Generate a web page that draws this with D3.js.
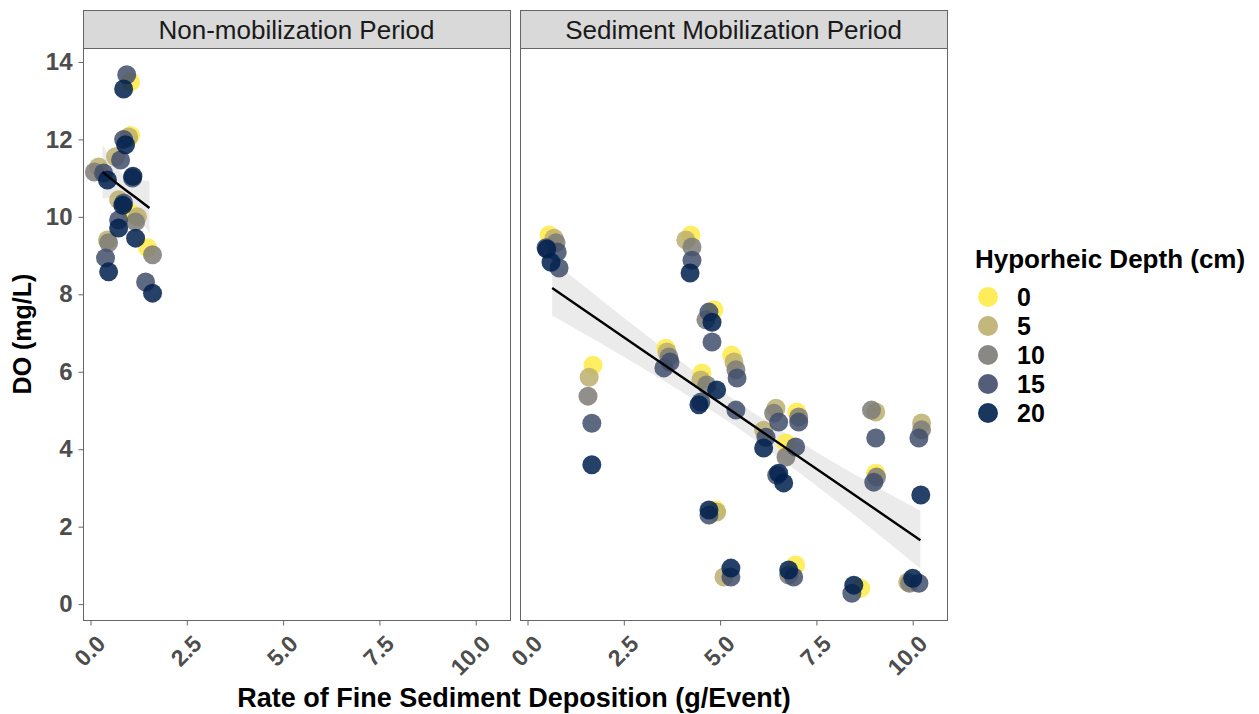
<!DOCTYPE html>
<html>
<head>
<meta charset="utf-8">
<script src="https://cdn.jsdelivr.net/npm/d3@7"></script>
<style>
  body { margin: 0; background: #fff; }
  text { font-family: "Liberation Sans", Arial, sans-serif; }
</style>
</head>
<body>
<script>
const W = 1259, H = 714;

// data: [depth (cm), rate (g/event), DO (mg/L)]
const depths = [0, 5, 10, 15, 20];
const depthColors = ["#FFEA46", "#BCAF6F", "#7C7B78", "#414D6B", "#00204D"];
const panelNames = ["Non-mobilization Period", "Sediment Mobilization Period"];
const xTicks = [0, 2.5, 5, 7.5, 10];
const yTicks = [0, 2, 4, 6, 8, 10, 12, 14];

const nonMobPoints = [
  [15, 0.94, 13.67], [0, 1.04, 13.48], [20, 0.86, 13.30],
  [0, 1.04, 12.10], [5, 0.99, 12.06], [15, 0.86, 12.00], [20, 0.91, 11.86],
  [5, 0.65, 11.55], [15, 0.78, 11.47],
  [5, 0.21, 11.29], [10, 0.10, 11.16], [15, 0.34, 11.13], [20, 0.44, 10.95],
  [15, 1.09, 11.00], [20, 1.10, 11.05],
  [5, 0.73, 10.44], [15, 0.86, 10.36], [20, 0.84, 10.30],
  [0, 1.04, 10.10], [5, 1.22, 10.00], [10, 1.17, 9.87],
  [15, 0.73, 9.92], [20, 0.73, 9.71],
  [5, 0.44, 9.40], [10, 0.47, 9.33], [20, 1.17, 9.45],
  [0, 1.48, 9.20], [10, 1.61, 9.02],
  [15, 0.39, 8.94], [20, 0.47, 8.58],
  [15, 1.43, 8.32], [20, 1.61, 8.03]
];

const mobPoints = [
  [0, 0.56, 9.53], [5, 0.69, 9.45], [10, 0.74, 9.33], [15, 0.48, 9.20], [20, 0.50, 9.17],
  [15, 0.77, 9.09], [20, 0.61, 8.83], [15, 0.82, 8.68],
  [0, 1.70, 6.17], [5, 1.60, 5.86], [10, 1.57, 5.37], [15, 1.67, 4.67], [20, 1.67, 3.60],
  [0, 3.59, 6.61], [5, 3.62, 6.51], [10, 3.67, 6.38], [15, 3.70, 6.25], [15, 3.54, 6.10],
  [0, 4.24, 9.53], [5, 4.11, 9.40], [10, 4.27, 9.22], [15, 4.27, 8.88], [20, 4.22, 8.55],
  [0, 4.84, 7.60], [15, 4.71, 7.54], [10, 4.63, 7.34], [20, 4.79, 7.28], [15, 4.79, 6.77],
  [0, 5.30, 6.43], [5, 5.36, 6.25], [10, 5.41, 6.05], [15, 5.44, 5.84],
  [0, 4.53, 5.97], [5, 4.50, 5.79], [10, 4.65, 5.66], [15, 4.50, 5.22], [20, 4.45, 5.15], [20, 4.91, 5.53],
  [15, 5.41, 5.01],
  [5, 6.45, 5.06], [10, 6.39, 4.93], [15, 6.52, 4.70],
  [0, 6.99, 4.96], [10, 7.04, 4.83], [15, 7.04, 4.70],
  [5, 6.13, 4.49], [15, 6.19, 4.31], [20, 6.13, 4.03],
  [0, 6.71, 4.16], [15, 6.96, 4.06], [10, 6.71, 3.80],
  [15, 6.47, 3.33], [20, 6.52, 3.38], [20, 6.65, 3.13],
  [10, 8.93, 5.01], [5, 9.04, 4.96], [15, 9.04, 4.29], [0, 9.04, 3.38], [10, 9.06, 3.28], [15, 8.99, 3.15],
  [5, 10.23, 4.68], [10, 10.23, 4.50], [15, 10.16, 4.29], [20, 10.21, 2.82],
  [0, 4.89, 2.43], [5, 4.91, 2.38], [15, 4.71, 2.30], [20, 4.71, 2.43],
  [5, 5.10, 0.70], [15, 5.28, 0.70], [20, 5.28, 0.93],
  [0, 6.96, 1.01], [10, 6.78, 0.75], [15, 6.91, 0.70], [20, 6.78, 0.88],
  [0, 8.65, 0.41], [15, 8.42, 0.28], [20, 8.47, 0.49],
  [5, 9.87, 0.57], [10, 9.92, 0.54], [20, 10.00, 0.67], [15, 10.16, 0.54]
];

// fitted line with confidence band
const nonMobFit = {
  x:  [0.31, 0.60, 0.90, 1.20, 1.53],
  y:  [11.16, 10.93, 10.70, 10.48, 10.23],
  lo: [10.48, 10.47, 10.35, 10.02, 9.58],
  hi: [11.86, 11.39, 11.05, 10.94, 10.93]
};
const mobFit = {
  x:  [0.64, 3.00, 5.40, 7.80, 10.20],
  y:  [8.16, 6.55, 4.92, 3.29, 1.65],
  lo: [7.45, 6.09, 4.59, 2.83, 0.92],
  hi: [8.87, 7.01, 5.25, 3.75, 2.41]
};

const panels = [
  { name: panelNames[0], pts: nonMobPoints, fit: nonMobFit, x0: 83 },
  { name: panelNames[1], pts: mobPoints, fit: mobFit, x0: 520 }
];

const pw = 427, pTop = 48, pBottom = 620, stripTop = 10;

const svg = d3.select("body").append("svg")
    .attr("width", W)
    .attr("height", H);

const y = d3.scaleLinear().domain([-0.41, 14.36]).range([pBottom, pTop]);
const color = d3.scaleOrdinal().domain(depths).range(depthColors);

panels.forEach((p, i) => {
    const x = d3.scaleLinear().domain([-0.195, 10.89]).range([p.x0, p.x0 + pw]);

    // strip
    svg.append("rect")
        .attr("x", p.x0 + 0.5).attr("y", stripTop + 0.5)
        .attr("width", pw).attr("height", pTop - stripTop)
        .attr("fill", "#d9d9d9").attr("stroke", "#666");
    svg.append("text")
        .attr("x", p.x0 + pw / 2).attr("y", 39)
        .attr("text-anchor", "middle")
        .attr("font-size", 26).attr("fill", "#1a1a1a")
        .text(p.name);

    // confidence band
    const band = p.fit.x.map((d, k) => ({ x: d, lo: p.fit.lo[k], hi: p.fit.hi[k], y: p.fit.y[k] }));
    svg.append("path")
        .datum(band)
        .attr("fill", "#bebebe").attr("fill-opacity", 0.3)
        .attr("d", d3.area().curve(d3.curveMonotoneX)
            .x(d => x(d.x)).y0(d => y(d.lo)).y1(d => y(d.hi)));

    // points
    const pts = p.pts.slice().sort((a, b) => a[0] - b[0]);
    svg.append("g").selectAll("circle")
        .data(pts)
        .enter()
        .append("circle")
        .attr("cx", d => x(d[1]))
        .attr("cy", d => y(d[2]))
        .attr("r", 9.5)
        .attr("fill", d => color(d[0]))
        .attr("fill-opacity", 0.85);

    // fit line
    svg.append("path")
        .datum(band)
        .attr("fill", "none").attr("stroke", "#000").attr("stroke-width", 2.4)
        .attr("d", d3.line().x(d => x(d.x)).y(d => y(d.y)));

    // panel border
    svg.append("rect")
        .attr("x", p.x0 + 0.5).attr("y", pTop + 0.5)
        .attr("width", pw).attr("height", pBottom - pTop)
        .attr("fill", "none").attr("stroke", "#666");

    // x axis
    const gx = svg.append("g")
        .attr("transform", `translate(0,${pBottom + 0.5})`)
        .call(d3.axisBottom(x).tickValues(xTicks).tickFormat(d3.format(".1f")).tickSize(5).tickPadding(2));
    gx.select(".domain").remove();
    gx.selectAll("line").attr("stroke", "#666");
    gx.selectAll("text")
        .attr("font-size", 23).attr("font-weight", "bold").attr("fill", "#4d4d4d")
        .attr("text-anchor", "end")
        .attr("y", 0).attr("dy", "0.35em")
        .attr("transform", "translate(10,19) rotate(-45)");
});

// y axis
const gy = svg.append("g")
    .attr("transform", `translate(${83.5},0)`)
    .call(d3.axisLeft(y).tickValues(yTicks).tickSize(5).tickPadding(6));
gy.select(".domain").remove();
gy.selectAll("line").attr("stroke", "#666");
gy.selectAll("text")
    .attr("font-size", 24).attr("font-weight", "bold").attr("fill", "#4d4d4d");

// axis titles
svg.append("text")
    .attr("transform", `translate(31,${(pTop + pBottom) / 2}) rotate(-90)`)
    .attr("text-anchor", "middle")
    .attr("font-size", 25).attr("font-weight", "bold")
    .text("DO (mg/L)");
svg.append("text")
    .attr("x", 514).attr("y", 707)
    .attr("text-anchor", "middle")
    .attr("font-size", 27).attr("font-weight", "bold")
    .text("Rate of Fine Sediment Deposition (g/Event)");

// legend
const lg = svg.append("g").attr("transform", "translate(975,0)");
lg.append("text")
    .attr("x", 0).attr("y", 268)
    .attr("font-size", 26).attr("font-weight", "bold")
    .text("Hyporheic Depth (cm)");
depths.forEach((d, k) => {
    const cy = 297 + k * 29;
    lg.append("circle")
        .attr("cx", 13).attr("cy", cy).attr("r", 10)
        .attr("fill", color(d)).attr("fill-opacity", 0.9);
    lg.append("text")
        .attr("x", 42).attr("y", cy + 9)
        .attr("font-size", 25).attr("font-weight", "bold")
        .text(d);
});
</script>
</body>
</html>
